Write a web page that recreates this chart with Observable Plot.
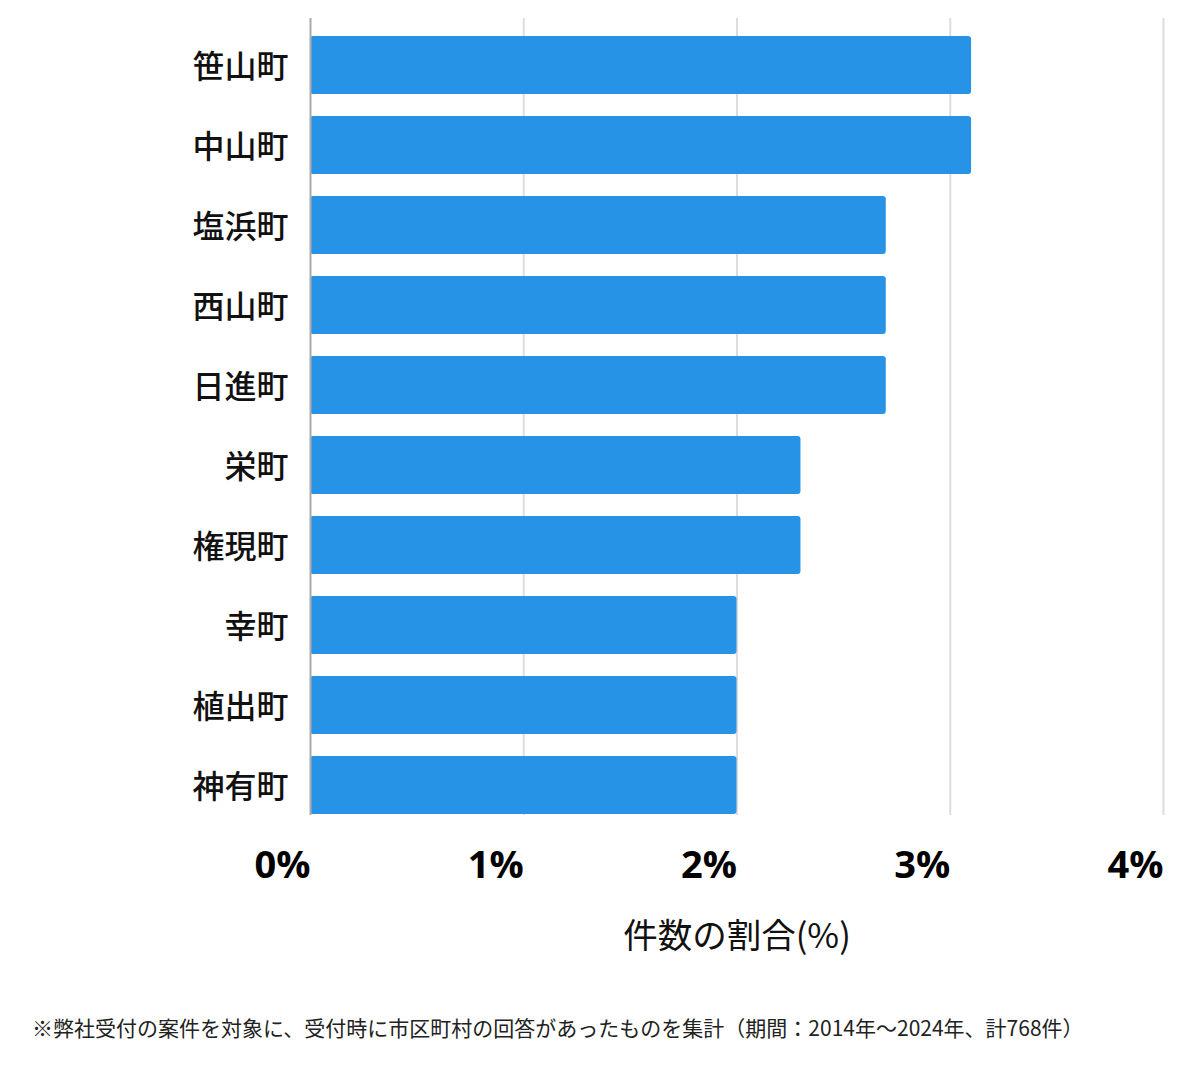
<!DOCTYPE html>
<html><head><meta charset="utf-8">
<script src="https://cdn.jsdelivr.net/npm/d3@7"></script>
<script src="https://cdn.jsdelivr.net/npm/@observablehq/plot@0.6"></script>
<style>
body{margin:0;background:#fff;font-family:"Noto Sans CJK JP","Noto Sans",sans-serif;}
#caption{position:absolute;left:32px;top:1012px;font-size:21px;color:#222;font-family:"Noto Sans CJK JP",sans-serif;white-space:nowrap;}
</style>
</head><body>
<div id="chart"></div>
<div id="caption">※弊社受付の案件を対象に、受付時に市区町村の回答があったものを集計（期間：2014年～2024年、計768件）</div>
<script>
const towns = ["笹山町","中山町","塩浜町","西山町","日進町","栄町","権現町","幸町","植出町","神有町"];
const shares = [3.10,3.10,2.70,2.70,2.70,2.30,2.30,2.00,2.00,2.00];
const xTicks = [0,1,2,3,4];
const xTickLabels = ["0%","1%","2%","3%","4%"];
const xTitle = "件数の割合(%)";

const data = towns.map((t,i)=>({town:t, share:shares[i]}));

const H = 960;
const chart = Plot.plot({
  width: 1200,
  height: H,
  marginLeft: 310,
  marginRight: 37,
  marginTop: 18,
  marginBottom: H - 815,
  style: {fontFamily: '"Noto Sans CJK JP","Noto Sans",sans-serif', background: "#fff"},
  x: {domain: [0,4], axis: null},
  y: {domain: towns, range: [22.4, 826.6], paddingInner: 0.28, paddingOuter: 0.14, axis: null},
  marks: [
    Plot.ruleX(xTicks.slice(1), {stroke: "#dcdcdc", strokeWidth: 2}),
    Plot.barX(data, {x: "share", y: "town", fill: "#2693e6", rx: 3}),
    Plot.ruleX([0], {stroke: "#aaaaaa", strokeWidth: 2}),
    Plot.axisY({tickSize: 0, tickPadding: 22, dy: 2, fontSize: 32, fontWeight: 500, fill: "#111", label: null}),
    Plot.text(xTicks, {x: d=>d, text: (d,i)=>xTickLabels[i], frameAnchor: "bottom", dy: 62, textAnchor: "end", fontSize: 38, fontWeight: "bold", fill: "#000", fontFamily: '"Open Sans","Noto Sans",sans-serif'}),
    Plot.text([xTitle], {x: 2, text: d=>d, frameAnchor: "bottom", dy: 132, fontSize: 34.5, fill: "#111"})
  ]
});
document.getElementById("chart").appendChild(chart);
</script>
</body></html>
